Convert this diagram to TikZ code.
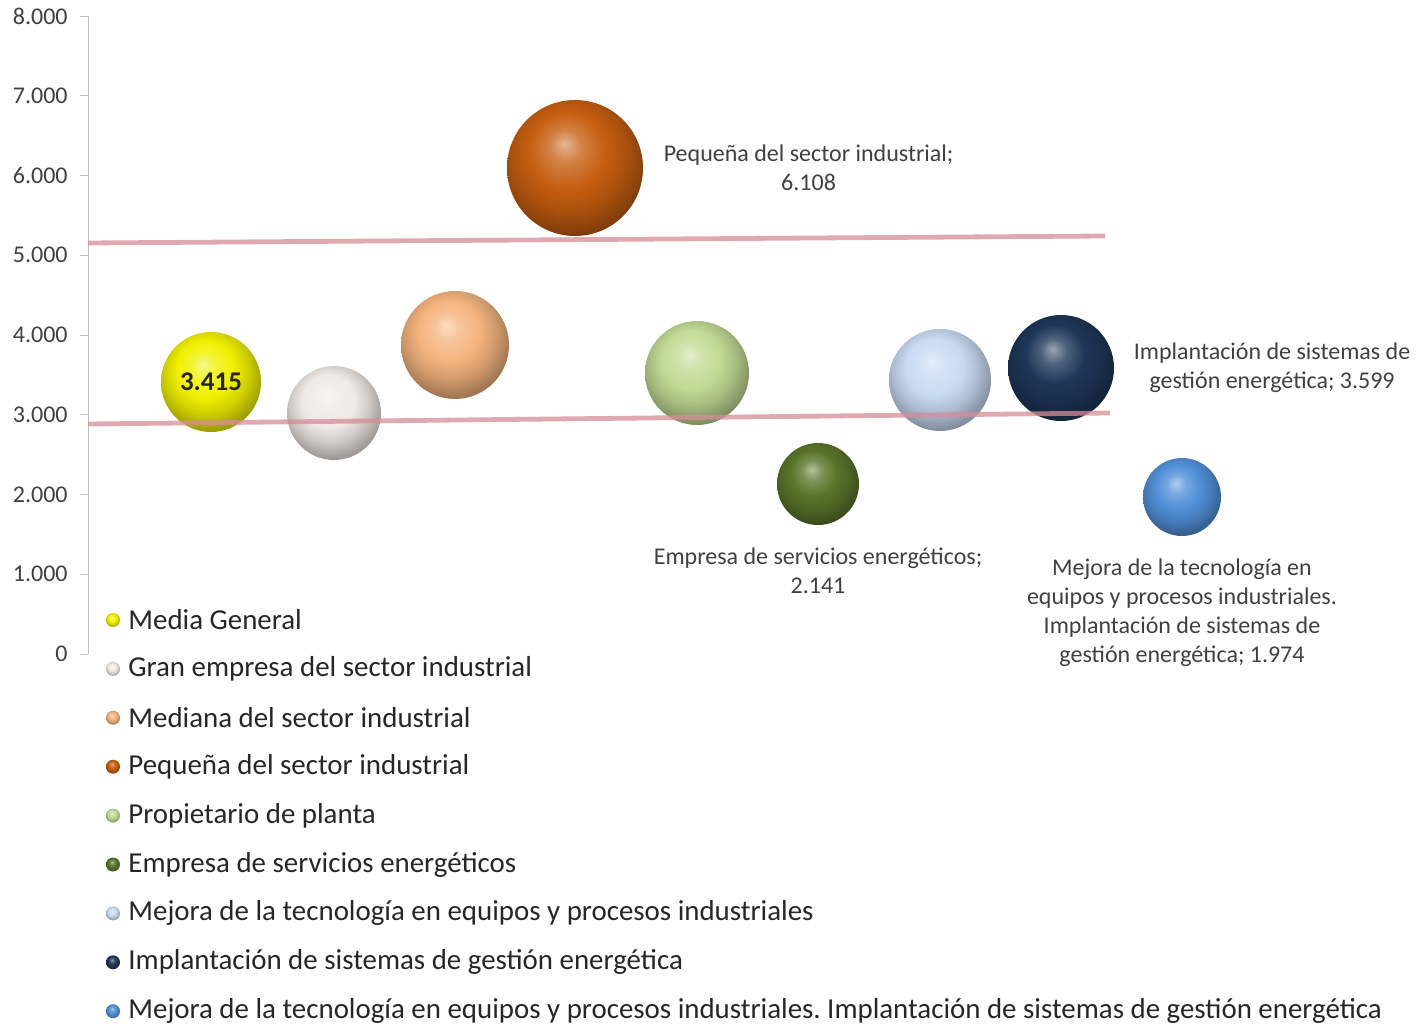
\documentclass[tikz,border=0pt]{standalone}
\usepackage{fontspec}
\setmainfont{Carlito}
\usepackage{tikz}
\usetikzlibrary{positioning}
\frenchspacing

\makeatletter
\pgfdeclareradialshading[tikz@ball]{softball}{\pgfqpoint{-4bp}{9bp}}{%
  color(0bp)=(tikz@ball!45!white); color(6bp)=(tikz@ball!78!white);
  color(14bp)=(tikz@ball); color(21bp)=(tikz@ball!86!black);
  color(28bp)=(tikz@ball!66!black); color(36bp)=(tikz@ball!52!black);
  color(50bp)=(tikz@ball!45!black)}
\makeatother

\definecolor{axisgray}{RGB}{190,190,190}
\definecolor{txtgray}{RGB}{64,64,64}
\definecolor{trendpink}{RGB}{214,140,150}
\definecolor{cmedia}{RGB}{240,240,0}
\definecolor{cgran}{RGB}{240,233,229}
\definecolor{cmediana}{RGB}{244,180,126}
\definecolor{cpeq}{RGB}{198,94,16}
\definecolor{cprop}{RGB}{194,218,148}
\definecolor{cesco}{RGB}{90,116,42}
\definecolor{cmejora}{RGB}{200,218,242}
\definecolor{cimpl}{RGB}{30,54,88}
\definecolor{cambas}{RGB}{82,144,216}

\tikzset{
  sphere/.style={ball color=#1, shading=softball},
  bubble/.style={circle, inner sep=0pt, minimum size=#1},
  ticklab/.style={anchor=east, inner sep=0pt, text=txtgray, font=\fontsize{12}{14}\selectfont},
  datalab/.style={align=center, inner sep=0pt, text=txtgray, font=\fontsize{12}{14.5}\selectfont},
  legmark/.style={circle, inner sep=0pt, minimum size=7pt},
  legtext/.style={anchor=west, inner sep=0pt, text=black!85, font=\fontsize{14.45}{16}\selectfont},
  trend/.style={trendpink, line width=2.4pt, opacity=0.75}
}

\begin{document}
\begin{tikzpicture}[x=0.5pt,y=-0.5pt]
\useasboundingbox (0,0) rectangle (1420,1026);
% eje vertical
\draw[axisgray] (88,16) -- (88,654);
\foreach \v/\t in {0/0,1/1.000,2/2.000,3/3.000,4/4.000,5/5.000,6/6.000,7/7.000,8/8.000} {
\draw[axisgray] (80,{654-79.75*\v}) -- (88,{654-79.75*\v});
\node[ticklab] (t\v) at (68,{654-79.75*\v}) {\t};
}
% burbujas
\node[bubble=50pt, sphere=cmedia] (media) at (211,382) {\fontsize{13.5}{14}\selectfont\bfseries\color{black!85}3.415};
\node[bubble=47pt, sphere=cgran] (gran) at (334,413) {};
\node[bubble=54pt, sphere=cmediana] (mediana) at (455,345) {};
\node[bubble=68pt, sphere=cpeq] (peq) at (575,168) {};
\node[bubble=52pt, sphere=cprop] (prop) at (697,373) {};
\node[bubble=41pt, sphere=cesco] (esco) at (818,484) {};
\node[bubble=51pt, sphere=cmejora] (mejora) at (940,380) {};
\node[bubble=53pt, sphere=cimpl] (impl) at (1061,368) {};
\node[bubble=39pt, sphere=cambas] (ambas) at (1182,497) {};
% lineas de tendencia
\coordinate (a1) at (88,243);
\coordinate (a2) at (1105,236);
\coordinate (b1) at (88,424);
\coordinate (b2) at (1110,413);
\draw[trend] (a1) -- (a2);
\draw[trend] (b1) -- (b2);
% etiquetas
\node[datalab, right=10pt of peq] (lpeq) {Pequeña del sector industrial;\\6.108};
\node[datalab, below=11pt of esco] (lesco) {Empresa de servicios energéticos;\\2.141};
\node[datalab, right=9.5pt of impl] (limpl) {Implantación de sistemas de\\gestión energética; 3.599};
\node[datalab, below=11pt of ambas] (lambas) {Mejora de la tecnología en\\equipos y procesos industriales.\\Implantación de sistemas de\\gestión energética; 1.974};
% leyenda
\foreach \i/\c/\t in {0/cmedia/Media General,
  1/cgran/Gran empresa del sector industrial,
  2/cmediana/Mediana del sector industrial,
  3/cpeq/Pequeña del sector industrial,
  4/cprop/Propietario de planta,
  5/cesco/Empresa de servicios energéticos,
  6/cmejora/Mejora de la tecnología en equipos y procesos industriales,
  7/cimpl/Implantación de sistemas de gestión energética,
  8/cambas/{Mejora de la tecnología en equipos y procesos industriales. Implantación de sistemas de gestión energética}} {
\node[legmark, sphere=\c] (m\i) at (113,{620+48.9*\i}) {};
\node[legtext] (l\i) at (128,{620+48.9*\i}) {\t};
}
\end{tikzpicture}
\end{document}
